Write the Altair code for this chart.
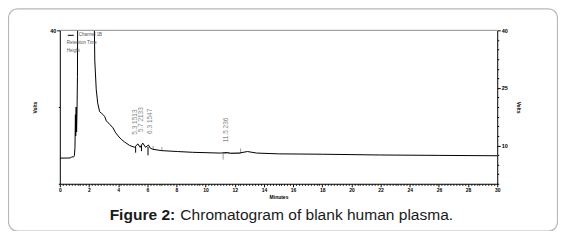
import altair as alt
import pandas as pd

# ---- data ----
time_min = [0.0, 0.5, 0.75, 0.8, 0.95, 1.0, 1.04, 1.07, 1.09, 1.12, 1.15, 1.18, 1.21, 1.24,
            2.3, 2.4, 2.5, 2.6, 2.73, 2.85, 3.0, 3.08, 3.19, 3.42, 3.64, 3.83, 3.99, 4.21,
            4.44, 4.78, 5.13, 5.35, 5.51, 5.69, 5.88, 6.08, 6.2, 6.38, 6.95, 8.08, 9.1,
            11.0, 11.5, 11.7, 12.3, 12.87, 13.5, 15.0, 18.0, 22.0, 26.0, 30.0]
signal = [6.7, 6.7, 6.75, 7.0, 7.0, 7.3, 9.5, 18.0, 12.5, 20.0, 13.5, 19.0, 28.0, 60.0,
          60.0, 32.0, 24.5, 21.0, 18.8, 18.4, 17.9, 17.5, 16.4, 15.5, 14.6, 13.3, 12.5, 11.6,
          10.9, 10.0, 9.5, 10.4, 9.5, 10.6, 9.5, 10.1, 9.3, 9.0, 8.65, 8.4, 8.2,
          8.0, 8.15, 7.95, 8.0, 8.4, 8.0, 7.8, 7.7, 7.5, 7.4, 7.3]

peak_label_t = [5.15, 5.6, 6.2, 11.4]
peak_label_v = [12.8, 13.4, 13.0, 10.8]
peak_label_text = ["5.3  1513", "5.7  2133", "6.3  1547", "11.5  236"]

marker_t = [5.2, 5.6, 6.05]
marker_top = [9.6, 10.0, 9.6]
marker_bot = [8.1, 8.5, 7.4]

gray_tick_t = [6.4, 7.0, 11.2, 12.4]
gray_tick_top = [9.9, 9.6, 7.95, 9.2]
gray_tick_bot = [9.0, 8.7, 6.3, 7.95]

gray_seg_start = [11.2]
gray_seg_end = [12.4]
gray_seg_v = [7.95]

y_major = [10, 25, 40]
y_ticks = [i * 2.5 for i in range(17)]
x_ticks = [round(i * 0.2, 1) for i in range(151)]

legend_lines = ["Channel 1B", "Retention Time", "Height"]
caption_bold = "Figure 2:"
caption_rest = "Chromatogram of blank human plasma."
x_title = "Minutes"
y_title = "Volts"

W, H = 439, 154
FONT = "Liberation Sans"

trace = pd.DataFrame({"t": time_min, "v": signal})
labels = pd.DataFrame({"t": peak_label_t, "v": peak_label_v, "txt": peak_label_text})
markers = pd.DataFrame({"t": marker_t, "v1": marker_top, "v2": marker_bot})
gticks = pd.DataFrame({"t": gray_tick_t, "v1": gray_tick_top, "v2": gray_tick_bot})
gseg = pd.DataFrame({"t1": gray_seg_start, "t2": gray_seg_end, "v": gray_seg_v})
one = pd.DataFrame({"a": [0]})

ydom = alt.Scale(domain=[0, 40], nice=False, zero=False)
xdom = alt.Scale(domain=[0, 30], nice=False, zero=False)

major_test = "datum.value == 10 || datum.value == 25 || datum.value == 40"

x_axis = alt.Axis(
    values=x_ticks,
    labelExpr="datum.value % 2 == 0 ? format(datum.value, 'd') : ''",
    labelOverlap=False, labelFlush=False, labelBound=False,
    tickSize={"condition": {"test": "datum.value % 2 == 0", "value": 3}, "value": 1.5},
    tickColor="black", domainColor="black", labelColor="black",
    labelFont=FONT, labelFontSize=5, labelFontWeight="bold", labelPadding=1,
    title=x_title, titleFont=FONT, titleFontSize=5, titleFontWeight="bold",
    titlePadding=2, titleColor="black", grid=False,
)

def y_axis(orient, pad):
    return alt.Axis(
        orient=orient, values=y_ticks,
        labelExpr=f"({major_test}) ? format(datum.value, 'd') : ''",
        labelOverlap=False, labelFlush=False, labelBound=False,
        tickSize={"condition": {"test": major_test, "value": 3}, "value": 1.5},
        tickColor="black", domainColor="black", labelColor="black",
        labelFont=FONT, labelFontSize=5.5, labelFontWeight="bold", labelPadding=1,
        title=y_title, titleFont=FONT, titleFontSize=5, titleFontWeight="bold",
        titleColor="black", titlePadding=pad, grid=False,
    )

X = alt.X("t:Q", scale=xdom, axis=x_axis)

line = alt.Chart(trace).mark_line(color="black", strokeWidth=1, clip=True).encode(
    x=X, y=alt.Y("v:Q", scale=ydom, axis=y_axis("left", 12))
)

peak_text = alt.Chart(labels).mark_text(
    angle=270, align="left", baseline="middle", fontSize=6.5, font=FONT, color="#8a8a8a"
).encode(x=X, y=alt.Y("v:Q", scale=ydom), text="txt:N")

mk = alt.Chart(markers).mark_rule(color="black", strokeWidth=1).encode(
    x=X, y=alt.Y("v1:Q", scale=ydom), y2="v2:Q"
)
gk = alt.Chart(gticks).mark_rule(color="#9a9a9a", strokeWidth=1).encode(
    x=X, y=alt.Y("v1:Q", scale=ydom), y2="v2:Q"
)
gs = alt.Chart(gseg).mark_rule(color="#9a9a9a", strokeWidth=1).encode(
    x=alt.X("t1:Q", scale=xdom, axis=x_axis), x2="t2:Q", y=alt.Y("v:Q", scale=ydom)
)

# legend inside plot
leg_line = alt.Chart(one).mark_rule(color="black", strokeWidth=1).encode(
    x=alt.value(8), x2=alt.value(14), y=alt.value(5)
)
leg_txt = [
    alt.Chart(one).mark_text(text=legend_lines[0], align="left", baseline="middle",
                             fontSize=4.5, font=FONT, color="#555").encode(
        x=alt.value(19), y=alt.value(5)),
    alt.Chart(one).mark_text(text=legend_lines[1], align="left", baseline="middle",
                             fontSize=4.5, font=FONT, color="#555").encode(
        x=alt.value(7), y=alt.value(13)),
    alt.Chart(one).mark_text(text=legend_lines[2], align="left", baseline="middle",
                             fontSize=4.5, font=FONT, color="#555").encode(
        x=alt.value(7), y=alt.value(21)),
]

cap1 = alt.Chart(one).mark_text(text=caption_bold, align="left", baseline="alphabetic",
                                fontSize=15.6, font=FONT, fontWeight="bold",
                                color="#1a1a1a").encode(x=alt.value(50), y=alt.value(190.5))
cap2 = alt.Chart(one).mark_text(text=caption_rest, align="left", baseline="alphabetic",
                                fontSize=15.6, font=FONT, color="#1a1a1a").encode(
    x=alt.value(121), y=alt.value(190.5))

box = alt.Chart(one).mark_rect(fillOpacity=0, stroke="#b8b8b8", strokeWidth=1.2,
                               cornerRadius=9).encode(
    x=alt.value(-51.5), x2=alt.value(499.5), y=alt.value(-21.5), y2=alt.value(201.5)
)

main = alt.layer(box, gs, gk, mk, line, peak_text, leg_line, *leg_txt, cap1, cap2)

top_rule = alt.Chart(pd.DataFrame({"v": [40]})).mark_rule(color="#8c8c8c", strokeWidth=1).encode(
    y=alt.Y("v:Q", scale=ydom, axis=y_axis("right", 8))
)

chart = alt.layer(main, top_rule).resolve_scale(y="independent").properties(
    width=W, height=H,
    autosize=alt.AutoSizeParams(type="none"),
    padding={"left": 52, "top": 22, "right": 61, "bottom": 47},
    background="white",
).configure_view(strokeOpacity=0)

chart.save("out.html", embed_options={"renderer": "svg", "actions": False})
